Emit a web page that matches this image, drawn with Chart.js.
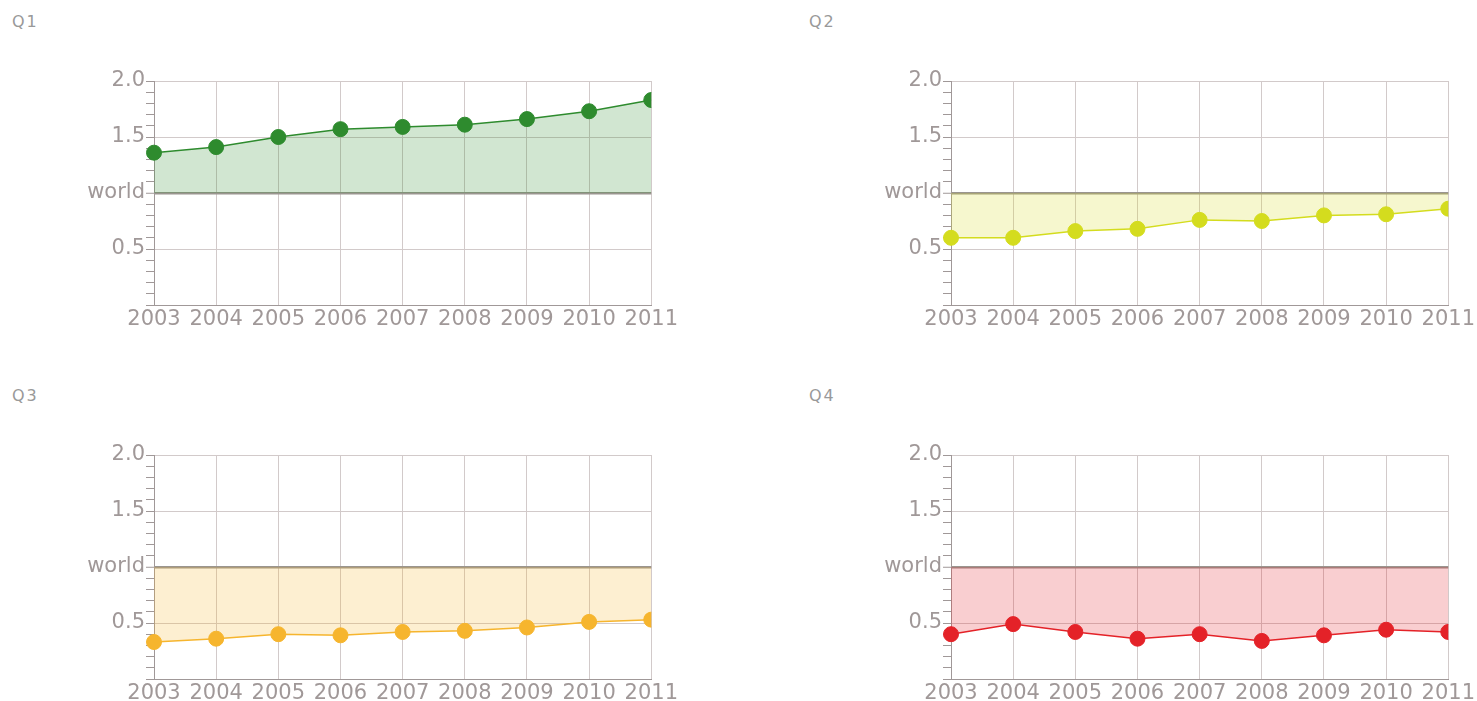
<!DOCTYPE html>
<html lang="en">
<head>
    <meta charset="UTF-8">
    <title>Q1-Q4 vs world</title>
    <script src="https://cdn.jsdelivr.net/npm/chart.js"></script>
    <style>
        body { margin: 0; background: #fff; overflow: hidden; width: 1477px; height: 701px; position: relative; }
        .title { position: absolute; font: 16px "DejaVu Sans", sans-serif; letter-spacing: 2px; color: #999; }
        canvas { position: absolute; }
    </style>
</head>
<body>
    <div class="title" style="left:12px; top:12px;">Q1</div>
    <div class="title" style="left:809px; top:12px;">Q2</div>
    <div class="title" style="left:12px; top:386px;">Q3</div>
    <div class="title" style="left:809px; top:386px;">Q4</div>

    <canvas id="c1" width="600" height="270" style="left:80px; top:60px;"></canvas>
    <canvas id="c2" width="600" height="270" style="left:877px; top:60px;"></canvas>
    <canvas id="c3" width="600" height="270" style="left:80px; top:434px;"></canvas>
    <canvas id="c4" width="600" height="270" style="left:877px; top:434px;"></canvas>

    <script>
        // data
        const years = ['2003', '2004', '2005', '2006', '2007', '2008', '2009', '2010', '2011'];
        const q1 = [1.36, 1.41, 1.50, 1.57, 1.59, 1.61, 1.66, 1.73, 1.83];
        const q2 = [0.60, 0.60, 0.66, 0.68, 0.76, 0.75, 0.80, 0.81, 0.86];
        const q3 = [0.33, 0.36, 0.40, 0.39, 0.42, 0.43, 0.46, 0.51, 0.53];
        const q4 = [0.40, 0.49, 0.42, 0.36, 0.40, 0.34, 0.39, 0.44, 0.42];
        const worldLevel = 1.0;

        const grey = '#a09898';
        const gridGrey = '#d2caca';
        const tickFont = { family: 'DejaVu Sans', size: 21 };

        function makeChart(id, values, rgb) {
            const solid = `rgb(${rgb})`;
            new Chart(document.getElementById(id), {
                type: 'line',
                data: {
                    labels: years,
                    datasets: [{
                        data: values,
                        borderColor: solid,
                        borderWidth: 1.5,
                        backgroundColor: `rgba(${rgb},0.22)`,
                        fill: { value: worldLevel },
                        pointRadius: 7.5,
                        pointBorderWidth: 1,
                        pointBackgroundColor: solid,
                        pointBorderColor: solid,
                        tension: 0,
                        clip: { left: 10, top: 10, right: 0, bottom: 10 }
                    }]
                },
                options: {
                    responsive: false,
                    animation: false,
                    layout: { padding: { top: 21, right: 28, left: 0, bottom: 0 } },
                    plugins: { legend: { display: false }, tooltip: { enabled: false } },
                    scales: {
                        x: {
                            offset: false,
                            grid: { color: gridGrey, drawTicks: false },
                            border: { color: grey },
                            ticks: { color: grey, font: tickFont, maxRotation: 0, autoSkip: false, padding: 2 },
                            afterFit: s => { s.height = 25; }
                        },
                        y: {
                            min: 0,
                            max: 2,
                            grid: {
                                color: ctx => {
                                    const v = Math.round(ctx.tick.value * 10);
                                    if (v === 10) return '#9a958f';
                                    return v % 5 === 0 ? gridGrey : 'transparent';
                                },
                                lineWidth: ctx => Math.round(ctx.tick.value * 10) === 10 ? 2.5 : 1,
                                tickColor: grey,
                                tickWidth: 1,
                                tickLength: 8
                            },
                            border: { color: grey },
                            ticks: {
                                stepSize: 0.1,
                                autoSkip: false,
                                color: grey,
                                font: tickFont,
                                padding: 1,
                                callback: value => {
                                    const v = Math.round(value * 10);
                                    if (v === 10) return 'world';
                                    if (v > 0 && v % 5 === 0) return (v / 10).toFixed(1);
                                    return '';
                                }
                            },
                            afterFit: s => { s.width = 74; }
                        }
                    }
                }
            });
        }

        makeChart('c1', q1, '46,139,46');
        makeChart('c2', q2, '212,220,30');
        makeChart('c3', q3, '246,181,46');
        makeChart('c4', q4, '228,34,40');
    </script>
</body>
</html>
